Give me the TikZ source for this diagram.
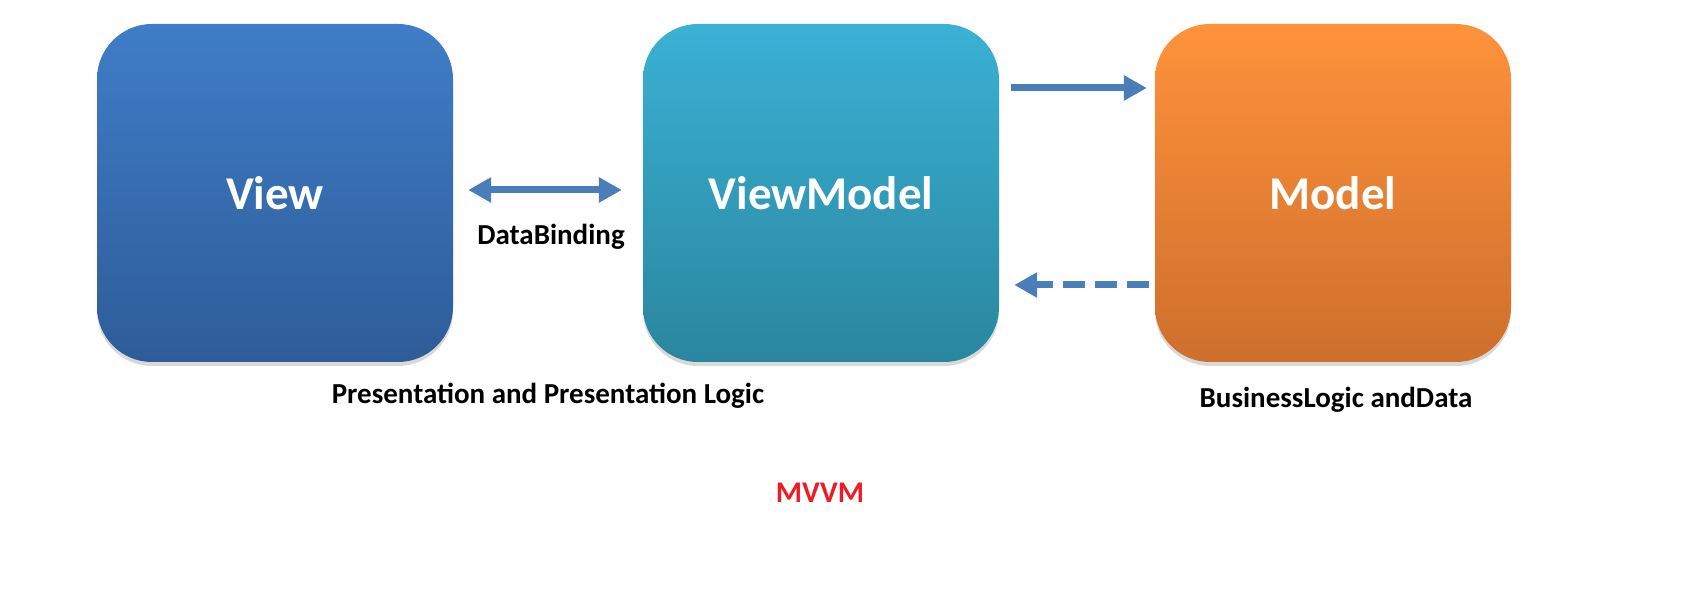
\documentclass[tikz,border=0pt]{standalone}
\usepackage{fontspec}
\setmainfont{Carlito}
\usetikzlibrary{arrows.meta,shadows}
\definecolor{linkblue}{RGB}{74,126,187}
\definecolor{mvvmred}{RGB}{237,28,36}
\begin{document}
\begin{tikzpicture}[x=1pt,y=1pt,
    box/.style={rounded corners=55pt, minimum width=356pt, minimum height=338pt,
      inner sep=0pt, text=white, font=\fontsize{47}{56}\selectfont\bfseries,
      drop shadow={shadow xshift=0pt, shadow yshift=-4pt, opacity=0.15, fill=black}},
    link/.style={draw=linkblue, line width=7pt,
      -{Triangle[length=23pt,width=24pt]}},
    caption/.style={font=\fontsize{29}{34}\selectfont\bfseries, text=black}]
    \useasboundingbox (0,0) rectangle (1706,608);
    \node[box, top color={rgb,255:red,63;green,125;blue,200},
      bottom color={rgb,255:red,46;green,92;blue,152}] (view) at (275,415) {View};
    \node[box, top color={rgb,255:red,58;green,177;blue,213},
      bottom color={rgb,255:red,42;green,134;blue,158}] (vm) at (821,415) {ViewModel};
    \node[box, top color={rgb,255:red,255;green,146;blue,59},
      bottom color={rgb,255:red,206;green,111;blue,44}] (model) at (1333,415) {Model};
    % data binding
    \draw[link, {Triangle[length=23pt,width=24pt]}-{Triangle[length=23pt,width=24pt]},
      shorten <=15pt, shorten >=21pt]
    ([yshift=3pt]view.east) -- ([yshift=3pt]vm.west);
    \node[caption] (bind) at (551,371) {DataBinding};
    % vm to model
    \draw[link, shorten <=12pt, shorten >=8pt]
    ([yshift=105pt]vm.east) -- ([yshift=105pt]model.west);
    \draw[link, dash pattern=on 22pt off 10pt, shorten <=6pt, shorten >=15pt]
    ([yshift=-92pt]model.west) -- ([yshift=-92pt]vm.east);
    \node[caption] (pres) at (548,212) {Presentation and Presentation Logic};
    \node[caption] (biz) at (1336,208) {BusinessLogic andData};
    \node[caption, text=mvvmred, font=\fontsize{30}{36}\selectfont\bfseries] (title) at (820,115) {MVVM};
  \end{tikzpicture}
\end{document}
